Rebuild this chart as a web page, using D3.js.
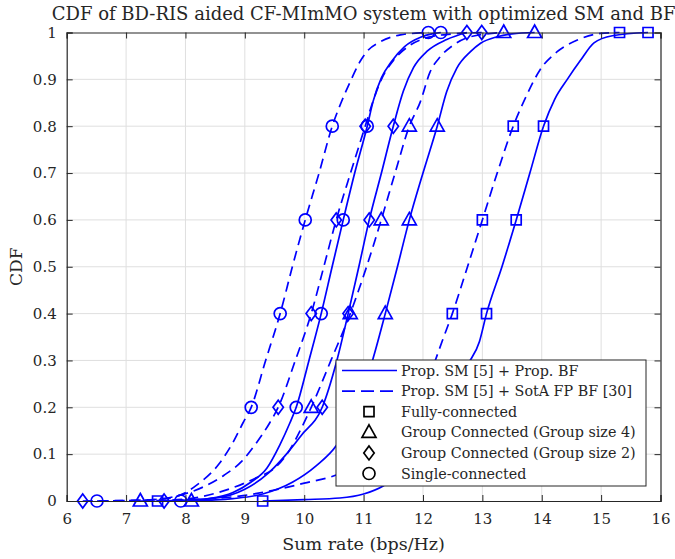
<!DOCTYPE html>
<html>
<head>
<meta charset="utf-8">
<script src="https://cdn.jsdelivr.net/npm/d3@7"></script>
<style>
  body { margin: 0; background: #fff; }
  text { font-family: "DejaVu Serif", serif; fill: #262626; }
</style>
</head>
<body>
<div id="chart"></div>
<script>
// ejes y ticks
const xTicks = [6, 7, 8, 9, 10, 11, 12, 13, 14, 15, 16];
const yTicks = [0, 0.1, 0.2, 0.3, 0.4, 0.5, 0.6, 0.7, 0.8, 0.9, 1];
const markerLevels = [0, 0.2, 0.4, 0.6, 0.8, 1];

// curvas [sum rate, CDF]
const singleSota = [[6.51,0],[7.5,0.003],[7.9,0.012],[8.2,0.035],[8.57,0.08],[8.8,0.125],[8.97,0.167],[9.107,0.2],[9.35,0.3],[9.595,0.4],[9.8,0.5],[10.017,0.6],[10.25,0.7],[10.472,0.8],[10.62,0.85],[10.775,0.895],[10.94,0.938],[11.06,0.96],[11.28,0.98],[11.62,0.995],[11.95,0.999],[12.09,1]];
const singleProp = [[7.92,0],[8.4,0.005],[8.8,0.018],[9.1,0.04],[9.37,0.07],[9.59,0.12],[9.76,0.167],[9.865,0.2],[10.08,0.3],[10.286,0.4],[10.47,0.5],[10.657,0.6],[10.85,0.7],[11.061,0.8],[11.16,0.853],[11.30,0.903],[11.47,0.938],[11.69,0.97],[11.96,0.99],[12.15,0.997],[12.30,1]];
const group2Sota = [[6.27,0],[7.3,0.002],[7.9,0.012],[8.3,0.03],[8.65,0.055],[8.95,0.085],[9.2,0.125],[9.42,0.167],[9.562,0.2],[9.85,0.3],[10.118,0.4],[10.33,0.5],[10.539,0.6],[10.78,0.7],[11.027,0.8],[11.15,0.85],[11.3,0.9],[11.5,0.94],[11.75,0.97],[12.1,0.99],[12.5,0.997],[12.99,1]];
const group2Prop = [[7.64,0],[8.5,0.006],[9.0,0.025],[9.4,0.06],[9.7,0.1],[9.95,0.14],[10.303,0.2],[10.55,0.3],[10.74,0.4],[10.92,0.5],[11.095,0.6],[11.3,0.7],[11.50,0.8],[11.67,0.875],[11.84,0.925],[12.07,0.96],[12.4,0.985],[12.74,1]];
const group4Sota = [[7.24,0],[8.0,0.004],[8.6,0.02],[9.2,0.05],[9.5,0.07],[9.76,0.11],[9.95,0.155],[10.118,0.2],[10.45,0.3],[10.775,0.4],[11.05,0.5],[11.297,0.6],[11.53,0.7],[11.77,0.8],[11.955,0.852],[12.12,0.916],[12.29,0.948],[12.51,0.973],[12.8,0.991],[13.36,1]];
const group4Prop = [[8.10,0],[8.8,0.005],[9.3,0.015],[9.8,0.04],[10.2,0.075],[10.55,0.12],[10.88,0.2],[11.15,0.3],[11.365,0.4],[11.57,0.5],[11.77,0.6],[12.0,0.7],[12.24,0.8],[12.40,0.874],[12.57,0.924],[12.80,0.959],[12.97,0.977],[13.25,0.991],[13.5,0.997],[13.88,1]];
const fullySota = [[7.53,0],[8.3,0.004],[9.0,0.012],[9.48,0.023],[10.0,0.038],[10.55,0.056],[11.0,0.085],[11.5,0.13],[11.9,0.2],[12.15,0.28],[12.32,0.34],[12.494,0.4],[12.75,0.5],[13.0,0.6],[13.25,0.7],[13.52,0.8],[13.75,0.867],[13.97,0.92],[14.26,0.959],[14.6,0.984],[14.99,0.998],[15.31,1]];
const fullyProp = [[9.30,0],[10.0,0.003],[10.6,0.0064],[11.0,0.015],[11.33,0.032],[11.7,0.07],[12.1,0.13],[12.5,0.22],[12.75,0.29],[12.95,0.34],[13.07,0.4],[13.33,0.5],[13.57,0.6],[13.8,0.7],[14.03,0.8],[14.22,0.858],[14.43,0.9],[14.65,0.94],[14.88,0.978],[15.19,0.993],[15.79,1]];

const legendLines = ["Prop. SM [5] + Prop. BF", "Prop. SM [5] + SotA FP BF [30]"];
const legendMarkers = ["Fully-connected", "Group Connected (Group size 4)", "Group Connected (Group size 2)", "Single-connected"];

const series = [
  {data: fullySota, dashed: true, marker: "square"},
  {data: fullyProp, dashed: false, marker: "square"},
  {data: group4Sota, dashed: true, marker: "triangle"},
  {data: group4Prop, dashed: false, marker: "triangle"},
  {data: group2Sota, dashed: true, marker: "diamond"},
  {data: group2Prop, dashed: false, marker: "diamond"},
  {data: singleSota, dashed: true, marker: "circle"},
  {data: singleProp, dashed: false, marker: "circle"}
];

const WIDTH = 675, HEIGHT = 559;
const margin = {top: 32.5, right: 14.5, bottom: 58, left: 66.7};
const width = WIDTH - margin.left - margin.right;
const height = HEIGHT - margin.top - margin.bottom;
const BLUE = "#0000ff";

const svg = d3.select("#chart").append("svg")
    .attr("width", WIDTH).attr("height", HEIGHT);
const g = svg.append("g").attr("transform", `translate(${margin.left},${margin.top})`);

const x = d3.scaleLinear().domain([6, 16]).range([0, width]);
const y = d3.scaleLinear().domain([0, 1]).range([height, 0]);

// grid
g.append("g").selectAll("line").data(xTicks.slice(1, -1)).join("line")
    .attr("x1", d => x(d)).attr("x2", d => x(d)).attr("y1", 0).attr("y2", height)
    .attr("stroke", "#dfdfdf").attr("stroke-width", 1);
g.append("g").selectAll("line").data(yTicks.slice(1, -1)).join("line")
    .attr("y1", d => y(d)).attr("y2", d => y(d)).attr("x1", 0).attr("x2", width)
    .attr("stroke", "#dfdfdf").attr("stroke-width", 1);

// formas de los marcadores
function markerPath(type) {
  if (type === "square") { const h = 5; return `M${-h},${-h}H${h}V${h}H${-h}Z`; }
  if (type === "triangle") return "M0,-7.5L7,5L-7,5Z";
  if (type === "diamond") return "M0,-7L5.2,0L0,7L-5.2,0Z";
  return d3.arc()({innerRadius: 0, outerRadius: 6, startAngle: 0, endAngle: 2 * Math.PI});
}

const line = d3.line().x(d => x(d[0])).y(d => y(d[1])).curve(d3.curveMonotoneX);

series.forEach(s => {
  g.append("path").datum(s.data)
      .attr("d", line)
      .attr("fill", "none").attr("stroke", BLUE).attr("stroke-width", 1.7)
      .attr("stroke-dasharray", s.dashed ? "10,6" : null);
  g.append("g").selectAll("path")
      .data(s.data.filter(d => markerLevels.includes(d[1])))
      .join("path")
      .attr("transform", d => `translate(${x(d[0])},${y(d[1])})`)
      .attr("d", markerPath(s.marker))
      .attr("fill", "none").attr("stroke", BLUE).attr("stroke-width", 1.7);
});

// ejes
const axisColor = "#262626";
const xAxis = g.append("g").attr("transform", `translate(0,${height})`)
    .call(d3.axisBottom(x).tickValues(xTicks).tickSize(-6).tickPadding(12).tickFormat(d3.format("d")));
const xAxisTop = g.append("g")
    .call(d3.axisTop(x).tickValues(xTicks).tickSize(-6).tickFormat(""));
const yAxis = g.append("g")
    .call(d3.axisLeft(y).tickValues(yTicks).tickSize(-6).tickPadding(10).tickFormat(d => d === 0 || d === 1 ? d : d3.format(".1f")(d)));
const yAxisRight = g.append("g").attr("transform", `translate(${width},0)`)
    .call(d3.axisRight(y).tickValues(yTicks).tickSize(-6).tickFormat(""));
[xAxis, xAxisTop, yAxis, yAxisRight].forEach(a => {
  a.select(".domain").attr("stroke", axisColor).attr("stroke-width", 1.2);
  a.selectAll(".tick line").attr("stroke", axisColor);
  a.selectAll(".tick text").attr("fill", axisColor).style("font-size", "15px").style("font-family", "DejaVu Serif");
});

// titulos
svg.append("text")
    .attr("x", margin.left + width / 2).attr("y", 20)
    .attr("text-anchor", "middle").style("font-size", "18px")
    .text("CDF of BD-RIS aided CF-MImMO system with optimized SM and BF");
svg.append("text")
    .attr("x", margin.left + width / 2).attr("y", 550)
    .attr("text-anchor", "middle").style("font-size", "17.5px")
    .text("Sum rate (bps/Hz)");
svg.append("text")
    .attr("transform", `translate(22,${margin.top + height / 2}) rotate(-90)`)
    .attr("text-anchor", "middle").style("font-size", "17px")
    .text("CDF");

// leyenda
const legend = svg.append("g").attr("transform", "translate(336,360)");
legend.append("rect").attr("width", 310).attr("height", 126)
    .attr("fill", "#fff").attr("stroke", axisColor).attr("stroke-width", 1);
const rowY = i => 10.5 + i * 20.6;
legendLines.forEach((t, i) => {
  legend.append("line").attr("x1", 6).attr("x2", 61).attr("y1", rowY(i)).attr("y2", rowY(i))
      .attr("stroke", BLUE).attr("stroke-width", 1.7)
      .attr("stroke-dasharray", i === 1 ? "13,6" : null);
  legend.append("text").attr("x", 65).attr("y", rowY(i)).attr("dy", "0.35em")
      .style("font-size", "14.3px").text(t);
});
const legendTypes = ["square", "triangle", "diamond", "circle"];
legendMarkers.forEach((t, i) => {
  legend.append("path").attr("transform", `translate(33,${rowY(i + 2)})`)
      .attr("d", markerPath(legendTypes[i]))
      .attr("fill", "none").attr("stroke", "#000").attr("stroke-width", 1.7);
  legend.append("text").attr("x", 65).attr("y", rowY(i + 2)).attr("dy", "0.35em")
      .style("font-size", "14.3px").text(t);
});
</script>
</body>
</html>
